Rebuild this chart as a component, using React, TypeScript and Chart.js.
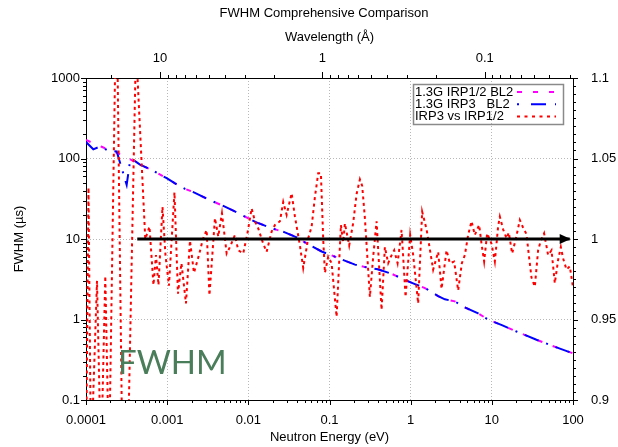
import React, { useEffect, useRef } from 'react';
import { Chart, registerables } from 'chart.js';

Chart.register(...registerables);

// ---- axis ticks ----
const energyTicks = [0.0001, 0.001, 0.01, 0.1, 1, 10, 100];
const minorMultipliers = [2, 3, 4, 5, 6, 7, 8, 9];
const fwhmTicks = [0.1, 1, 10, 100, 1000];
const ratioTicks = [0.9, 0.95, 1, 1.05, 1.1];
const ratioMinorStep = 0.005;
const waveMajor = [10, 1, 0.1];
const waveMinor = [20, 9, 8, 7, 6, 5, 4, 3, 2, 0.9, 0.8, 0.7, 0.6, 0.5, 0.4, 0.3, 0.2, 0.09, 0.08, 0.07, 0.06, 0.05, 0.04, 0.03];
const waveConst = 0.0818; // E(eV) = waveConst / lambda^2

// ---- FWHM series ----
const fwhmEnergy = [1e-4, 1.23e-4, 1.42e-4, 1.56e-4, 1.87e-4, 2.39e-4, 2.88e-4, 3.17e-4, 3.48e-4, 3.83e-4, 4.62e-4, 6.44e-4, 9.86e-4, 1.25e-3, 1.66e-3, 2.2e-3, 3.21e-3, 4.69e-3, 6.52e-3, 9.08e-3, 1.26e-2, 1.94e-2, 2.82e-2, 3.94e-2, 5.23e-2, 8.0e-2, 0.128, 0.206, 0.297, 0.394, 0.582, 0.849, 1.13, 1.5, 2.18, 2.64, 3.5, 4.65, 6.78, 9.0, 13.3, 20.1, 35.5, 62.6, 100];
const irp12 = [170, 155, 146, 140, 128, 118, 108, 103, 98, 93, 84, 72, 57, 49, 42, 37.5, 31, 26.3, 22.5, 19, 16.1, 13.6, 12.1, 10.5, 8.8, 7.0, 5.8, 4.8, 4.4, 4.2, 3.7, 3.1, 2.75, 2.46, 1.95, 1.78, 1.68, 1.41, 1.19, 1.0, 0.85, 0.71, 0.56, 0.45, 0.38];
const irp3 = [160, 130, 138, 140, 125, 122, 65, 47, 91, 96, 84, 72, 57, 49, 42, 37.5, 31, 26.3, 22.5, 19, 16.1, 13.6, 12.1, 10.5, 8.8, 7.0, 5.8, 4.8, 4.4, 4.2, 3.7, 3.1, 2.75, 2.46, 1.95, 1.78, 1.68, 1.41, 1.19, 1.0, 0.85, 0.71, 0.56, 0.45, 0.38];

// ---- ratio series IRP3 / IRP1/2 ----
const ratioEnergy = [1.0e-4, 1.073e-4, 1.152e-4, 1.366e-4, 1.53e-4, 1.729e-4, 1.92e-4, 2.375e-4, 2.815e-4, 3.29e-4, 4.129e-4, 5.374e-4, 6.053e-4, 6.782e-4, 7.278e-4, 7.814e-4, 8.754e-4, 9.53e-4, 1.052e-3, 1.23e-3, 1.359e-3, 1.5e-3, 1.704e-3, 1.909e-3, 2.138e-3, 2.464e-3, 2.76e-3, 3.065e-3, 3.318e-3, 3.88e-3, 4.259e-3, 4.731e-3, 5.406e-3, 5.934e-3, 6.839e-3, 7.509e-3, 8.655e-3, 9.748e-3, 1.098e-2, 1.206e-2, 1.324e-2, 1.526e-2, 1.68e-2, 1.936e-2, 2.126e-2, 2.45e-2, 2.691e-2, 2.963e-2, 3.415e-2, 3.75e-2, 4.321e-2, 4.745e-2, 5.466e-2, 6.02e-2, 6.61e-2, 7.258e-2, 7.838e-2, 8.365e-2, 8.777e-2, 9.638e-2, 0.1061, 0.1223, 0.1382, 0.1475, 0.1548, 0.1748, 0.1959, 0.2157, 0.2368, 0.2528, 0.2729, 0.3144, 0.3453, 0.3802, 0.4381, 0.4812, 0.5284, 0.5704, 0.6265, 0.6898, 0.7726, 0.8654, 0.9859, 1.074, 1.237, 1.386, 1.57, 1.893, 2.182, 2.402, 2.768, 3.04, 3.434, 3.846, 4.272, 4.651, 5.107, 5.623, 6.174, 6.978, 7.468, 8.04, 8.752, 9.915, 10.89, 11.96, 12.55, 13.78, 15.17, 16.2, 17.78, 19.75, 22.12, 24.29, 26.75, 28.56, 30.83, 33.86, 37.18, 40.13, 44.06, 49.37, 54.36, 59.69, 65.55, 70.77, 75.52, 83.18, 91.33, 100];
const ratioValues = [0.86, 1.032, 0.86, 0.974, 0.86, 0.977, 0.86, 1.16, 0.86, 0.87, 1.12, 1.0, 1.0077, 0.9714, 0.99, 0.9714, 1.02, 0.99, 0.971, 1.029, 0.966, 0.985, 0.96, 0.999, 0.979, 0.99, 1.0, 1.0056, 0.965, 1.013, 1.0015, 1.016, 0.991, 0.995, 1.0025, 0.993, 0.991, 1.0035, 1.019, 1.011, 1.0066, 0.997, 0.992, 1.0046, 1.0087, 1.011, 1.023, 1.015, 1.0284, 1.0139, 0.996, 0.982, 1.0005, 1.0076, 1.026, 1.0408, 1.0408, 1.0, 0.979, 0.989, 0.985, 0.9517, 1.0087, 0.998, 1.0097, 0.996, 1.01, 1.028, 1.037, 1.033, 1.013, 0.964, 0.989, 1.011, 0.956, 0.995, 0.985, 0.989, 0.993, 0.985, 1.0056, 0.964, 1.0025, 0.99, 0.96, 1.017, 1.006, 0.981, 0.992, 0.969, 0.993, 0.985, 0.986, 0.968, 0.985, 0.99, 1.0025, 1.011, 1.0025, 1.0087, 0.997, 0.986, 1.0035, 0.997, 0.986, 1.008, 1.0139, 1.006, 1.0004, 1.004, 0.991, 1.0, 1.0118, 1.007, 1.003, 0.99, 0.976, 0.9704, 0.993, 0.999, 1.0035, 0.99, 0.993, 0.9725, 0.987, 0.995, 0.988, 0.981, 0.983, 0.97];

// ---- reference arrow at ratio = 1 ----
const arrowEnergy = [0.000428, 91];
const arrowRatio = [1, 1];

const legendItems = [
  { text: '1.3G IRP1/2 BL2', color: '#ff00ff', dash: [5, 11] },
  { text: '1.3G IRP3   BL2', color: '#0000ff', dash: [2, 12, 15, 9] },
  { text: 'IRP3 vs IRP1/2', color: '#ff0000', dash: [3, 4.5] },
];

const FONT = "'Liberation Sans', Arial, Helvetica, sans-serif";

const decor = {
  id: 'decor',
  afterDatasetsDraw(chart: any) {
    const { ctx } = chart;
    const sx = chart.scales.x;
    const sy2 = chart.scales.y2;
    const tipX = sx.getPixelForValue(arrowEnergy[1]);
    const tipY = sy2.getPixelForValue(arrowRatio[1]);
    ctx.save();
    ctx.fillStyle = '#000';
    ctx.beginPath();
    ctx.moveTo(tipX + 1, tipY);
    ctx.lineTo(tipX - 10, tipY - 5);
    ctx.lineTo(tipX - 10, tipY + 5);
    ctx.closePath();
    ctx.fill();
    ctx.restore();
  },
  afterDraw(chart: any) {
    const { ctx, chartArea: a } = chart;
    const sx = chart.scales.x;
    const sx2 = chart.scales.x2;
    const sy = chart.scales.y;
    const sy2 = chart.scales.y2;
    ctx.save();
    ctx.strokeStyle = '#000';
    ctx.lineWidth = 1;
    ctx.setLineDash([]);
    const hTick = (px: number, y0: number, len: number) => {
      const p = Math.round(px) + 0.5;
      ctx.beginPath();
      ctx.moveTo(p, y0);
      ctx.lineTo(p, y0 + len);
      ctx.stroke();
    };
    const vTick = (py: number, x0: number, len: number) => {
      const p = Math.round(py) + 0.5;
      ctx.beginPath();
      ctx.moveTo(x0, p);
      ctx.lineTo(x0 + len, p);
      ctx.stroke();
    };
    // bottom energy ticks
    energyTicks.forEach((d, i) => {
      hTick(sx.getPixelForValue(d), a.bottom, 5);
      if (i < energyTicks.length - 1) minorMultipliers.forEach((m) => hTick(sx.getPixelForValue(d * m), a.bottom, 3));
    });
    // top wavelength ticks
    waveMajor.forEach((l) => hTick(sx2.getPixelForValue(waveConst / (l * l)), a.top, -6));
    waveMinor.forEach((l) => hTick(sx2.getPixelForValue(waveConst / (l * l)), a.top, -3));
    // left FWHM ticks
    fwhmTicks.forEach((d, i) => {
      vTick(sy.getPixelForValue(d), a.left, -5);
      if (i < fwhmTicks.length - 1) minorMultipliers.forEach((m) => vTick(sy.getPixelForValue(d * m), a.left, -3));
    });
    // right ratio ticks
    ratioTicks.forEach((v) => vTick(sy2.getPixelForValue(v), a.right, 5));
    const nMinor = Math.round((ratioTicks[ratioTicks.length - 1] - ratioTicks[0]) / ratioMinorStep);
    for (let k = 1; k < nMinor; k++) {
      if (k % 10 === 0) continue;
      vTick(sy2.getPixelForValue(ratioTicks[0] + k * ratioMinorStep), a.right, 3);
    }

    // chart title
    ctx.fillStyle = '#000';
    ctx.font = `13px ${FONT}`;
    ctx.textAlign = 'center';
    ctx.textBaseline = 'middle';
    ctx.fillText('FWHM Comprehensive Comparison', 324, 13);

    // legend
    const lx = 413.5, ly = 84.5, lw = 150, lh = 40;
    ctx.strokeStyle = '#8a8a8a';
    ctx.lineWidth = 1.5;
    ctx.strokeRect(lx, ly, lw, lh);
    ctx.textAlign = 'left';
    ctx.font = `13px ${FONT}`;
    legendItems.forEach((it, i) => {
      const ty = 92 + i * 12.2;
      ctx.fillStyle = '#000';
      ctx.fillText(it.text, 415, ty);
      ctx.strokeStyle = it.color;
      ctx.lineWidth = 2;
      ctx.setLineDash(it.dash);
      ctx.beginPath();
      ctx.moveTo(517, ty);
      ctx.lineTo(556, ty);
      ctx.stroke();
      ctx.setLineDash([]);
    });

    // FWHM watermark label
    ctx.fillStyle = '#4a7d5a';
    ctx.font = "400 33px Lato, 'Open Sans', sans-serif";
    ctx.textAlign = 'left';
    ctx.textBaseline = 'alphabetic';
    ctx.fillText('FWHM', 118, 374);
    ctx.restore();
  },
};

const gridColor = '#b8b8b8';

export default function App() {
  const ref = useRef<HTMLCanvasElement | null>(null);
  useEffect(() => {
    document.body.style.margin = '0';
    if (!ref.current) return;
    Chart.defaults.font.family = FONT;
    Chart.defaults.font.size = 13;
    Chart.defaults.color = '#000';
    const chart = new Chart(ref.current, {
      type: 'line',
      data: {
        datasets: [
          {
            label: 'arrow',
            data: arrowEnergy.map((e, i) => ({ x: e, y: arrowRatio[i] })),
            xAxisID: 'x',
            yAxisID: 'y2',
            borderColor: '#000',
            borderWidth: 3,
            pointRadius: 0,
            order: 0,
          },
          {
            label: 'IRP3 vs IRP1/2',
            data: ratioEnergy.map((e, i) => ({ x: e, y: ratioValues[i] })),
            xAxisID: 'x',
            yAxisID: 'y2',
            borderColor: '#ff0000',
            borderWidth: 2,
            borderDash: [3, 3.5],
            pointRadius: 0,
            tension: 0,
            order: 1,
          },
          {
            label: '1.3G IRP3   BL2',
            data: fwhmEnergy.map((e, i) => ({ x: e, y: irp3[i] })),
            xAxisID: 'x',
            yAxisID: 'y',
            borderColor: '#0000ff',
            borderWidth: 2,
            borderDash: [15, 8, 2, 8],
            pointRadius: 0,
            tension: 0,
            order: 2,
          },
          {
            label: '1.3G IRP1/2 BL2',
            data: fwhmEnergy.map((e, i) => ({ x: e, y: irp12[i] })),
            xAxisID: 'x',
            yAxisID: 'y',
            borderColor: '#ff00ff',
            borderWidth: 2,
            borderDash: [5, 11],
            pointRadius: 0,
            tension: 0,
            order: 3,
          },
        ],
      },
      options: {
        animation: false,
        responsive: false,
        maintainAspectRatio: false,
        layout: { padding: 0 },
        plugins: { legend: { display: false }, tooltip: { enabled: false }, title: { display: false } },
        scales: {
          x: {
            type: 'logarithmic',
            position: 'bottom',
            min: 1e-4,
            max: 100,
            afterBuildTicks: (s: any) => { s.ticks = energyTicks.map((v) => ({ value: v })); },
            afterFit: (s: any) => { s.height = 47; },
            ticks: { callback: (v: any) => String(v), padding: 13, maxRotation: 0, autoSkip: false, color: '#000' },
            grid: { color: gridColor, lineWidth: 1, drawTicks: false },
            border: { display: true, color: '#000', width: 1, dash: [1, 2] },
            title: { display: true, text: 'Neutron Energy (eV)', color: '#000', padding: { top: 0, bottom: 2 } },
          },
          x2: {
            type: 'logarithmic',
            position: 'top',
            min: 1e-4,
            max: 100,
            afterBuildTicks: (s: any) => { s.ticks = waveMajor.map((l) => ({ value: waveConst / (l * l) })); },
            afterFit: (s: any) => { s.height = 78; },
            ticks: { callback: (_v: any, i: number) => String(waveMajor[i]), padding: 12, maxRotation: 0, autoSkip: false, color: '#000' },
            grid: { display: false, drawTicks: false, drawOnChartArea: false },
            border: { display: true, color: '#000', width: 1 },
            title: { display: true, text: 'Wavelength (Å)', color: '#000', padding: { top: 30, bottom: 0 } },
          },
          y: {
            type: 'logarithmic',
            position: 'left',
            min: 0.1,
            max: 1000,
            afterBuildTicks: (s: any) => { s.ticks = fwhmTicks.map((v) => ({ value: v })); },
            afterFit: (s: any) => { s.width = 86; },
            ticks: { callback: (v: any) => String(v), padding: 6, autoSkip: false, color: '#000' },
            grid: { color: gridColor, lineWidth: 1, drawTicks: false },
            border: { display: true, color: '#000', width: 1, dash: [1, 2] },
            title: { display: true, text: 'FWHM (µs)', color: '#000', padding: { top: 12, bottom: 0 } },
          },
          y2: {
            type: 'linear',
            position: 'right',
            min: 0.9,
            max: 1.1,
            afterBuildTicks: (s: any) => { s.ticks = ratioTicks.map((v) => ({ value: v })); },
            afterFit: (s: any) => { s.width = 45; },
            ticks: { callback: (v: any) => String(v), padding: 18, autoSkip: false, color: '#000' },
            grid: { display: false, drawTicks: false, drawOnChartArea: false },
            border: { display: true, color: '#000', width: 1 },
          },
        },
      },
      plugins: [decor],
    } as any);
    return () => chart.destroy();
  }, []);
  return (
    <div style={{ width: 618, height: 447, position: 'relative' }}>
      <canvas ref={ref} width={618} height={447} style={{ display: 'block', width: 618, height: 447 }} />
    </div>
  );
}
